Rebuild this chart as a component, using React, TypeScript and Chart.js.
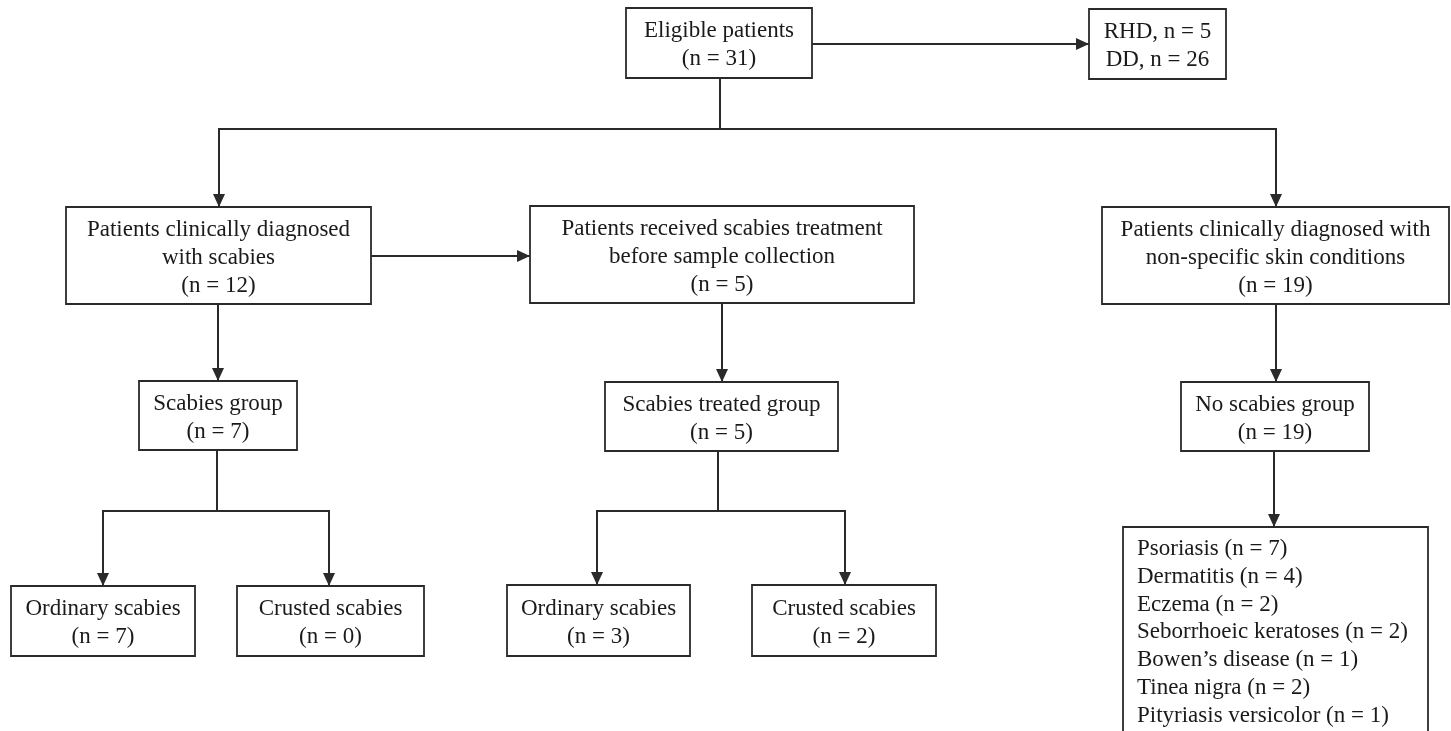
import React, { useEffect, useRef } from "react";
import { Chart, registerables } from "chart.js";

Chart.register(...registerables);

// ---- Node content (text) ----
const nodeText: string[][] = [
  ["Eligible patients", "(n = 31)"],
  ["RHD, n = 5", "DD, n = 26"],
  ["Patients clinically diagnosed", "with scabies", "(n = 12)"],
  ["Patients received scabies treatment", "before sample collection", "(n = 5)"],
  ["Patients clinically diagnosed with", "non-specific skin conditions", "(n = 19)"],
  ["Scabies group", "(n = 7)"],
  ["Scabies treated group", "(n = 5)"],
  ["No scabies group", "(n = 19)"],
  ["Ordinary scabies", "(n = 7)"],
  ["Crusted scabies", "(n = 0)"],
  ["Ordinary scabies", "(n = 3)"],
  ["Crusted scabies", "(n = 2)"],
  [
    "Psoriasis (n = 7)",
    "Dermatitis (n = 4)",
    "Eczema (n = 2)",
    "Seborrhoeic keratoses (n = 2)",
    "Bowen\u2019s disease (n = 1)",
    "Tinea nigra (n = 2)",
    "Pityriasis versicolor (n = 1)",
  ],
];
const nodeAlign: string[] = [
  "center", "center", "center", "center", "center", "center", "center",
  "center", "center", "center", "center", "center", "left",
];

// ---- Node layout in axis units ----
const nodeLeft = [626, 1089, 66, 530, 1102, 139, 605, 1181, 11, 237, 507, 752, 1123];
const nodeRight = [812, 1226, 371, 914, 1449, 297, 838, 1369, 195, 424, 690, 936, 1428];
const nodeTop = [8, 9, 207, 206, 207, 381, 382, 382, 586, 586, 585, 585, 527];
const nodeBottom = [78, 79, 304, 303, 304, 450, 451, 451, 656, 656, 656, 656, 770];

// ---- Connector paths in axis units ----
const edgeXs: number[][] = [
  [812, 1089],
  [720, 720, 219, 219],
  [720, 720, 1276, 1276],
  [371, 530],
  [218, 218],
  [722, 722],
  [1276, 1276],
  [217, 217, 103, 103],
  [217, 217, 329, 329],
  [718, 718, 597, 597],
  [718, 718, 845, 845],
  [1274, 1274],
];
const edgeYs: number[][] = [
  [44, 44],
  [78, 129, 129, 207],
  [78, 129, 129, 207],
  [256, 256],
  [304, 381],
  [303, 382],
  [304, 382],
  [450, 511, 511, 586],
  [450, 511, 511, 586],
  [451, 511, 511, 585],
  [451, 511, 511, 585],
  [451, 527],
];

const W = 1451;
const H = 731;
const INK = "#2a2a2a";
const FONT = '23px "Liberation Serif", "Times New Roman", serif';

const flowPlugin = {
  id: "flowPlugin",
  afterDatasetsDraw(chart: any) {
    const ctx = chart.ctx as CanvasRenderingContext2D;
    const xs = chart.scales.x;
    const ys = chart.scales.y;
    ctx.save();
    // arrowheads
    ctx.fillStyle = INK;
    edgeXs.forEach((ex, i) => {
      const ey = edgeYs[i];
      const n = ex.length;
      const x1 = xs.getPixelForValue(ex[n - 1]);
      const y1 = ys.getPixelForValue(ey[n - 1]);
      const x0 = xs.getPixelForValue(ex[n - 2]);
      const y0 = ys.getPixelForValue(ey[n - 2]);
      const ang = Math.atan2(y1 - y0, x1 - x0);
      const L = 13;
      const hw = 6;
      ctx.beginPath();
      ctx.moveTo(x1, y1);
      ctx.lineTo(x1 - L * Math.cos(ang) + hw * Math.sin(ang), y1 - L * Math.sin(ang) - hw * Math.cos(ang));
      ctx.lineTo(x1 - L * Math.cos(ang) - hw * Math.sin(ang), y1 - L * Math.sin(ang) + hw * Math.cos(ang));
      ctx.closePath();
      ctx.fill();
    });
    // text
    ctx.fillStyle = "#1a1a1a";
    ctx.font = FONT;
    ctx.textBaseline = "middle";
    const lh = 28;
    nodeText.forEach((lines, i) => {
      const l = xs.getPixelForValue(nodeLeft[i]);
      const r = xs.getPixelForValue(nodeRight[i]);
      const t = ys.getPixelForValue(nodeTop[i]);
      const b = ys.getPixelForValue(nodeBottom[i]);
      if (nodeAlign[i] === "left") {
        ctx.textAlign = "left";
        lines.forEach((s, k) => ctx.fillText(s, l + 14, t + 22 + k * 27.8));
      } else {
        ctx.textAlign = "center";
        const cx = (l + r) / 2;
        const cy = (t + b) / 2 + 2;
        const start = cy - ((lines.length - 1) * lh) / 2;
        lines.forEach((s, k) => ctx.fillText(s, cx, start + k * lh));
      }
    });
    ctx.restore();
  },
};

export default function App() {
  const ref = useRef<HTMLCanvasElement | null>(null);
  useEffect(() => {
    if (!ref.current) return;
    const boxSets = nodeText.map((_, i) => ({
      type: "line" as const,
      data: [
        { x: nodeLeft[i], y: nodeTop[i] },
        { x: nodeRight[i], y: nodeTop[i] },
        { x: nodeRight[i], y: nodeBottom[i] },
        { x: nodeLeft[i], y: nodeBottom[i] },
        { x: nodeLeft[i], y: nodeTop[i] },
      ],
      borderColor: INK,
      borderWidth: 1.8,
      pointRadius: 0,
      fill: false,
      tension: 0,
      borderJoinStyle: "miter" as const,
      borderCapStyle: "square" as const,
    }));
    const edgeSets = edgeXs.map((ex, i) => ({
      type: "line" as const,
      data: ex.map((x, k) => ({ x, y: edgeYs[i][k] })),
      borderColor: INK,
      borderWidth: 2,
      pointRadius: 0,
      fill: false,
      tension: 0,
      borderJoinStyle: "miter" as const,
    }));
    const chart = new Chart(ref.current, {
      type: "scatter",
      data: { datasets: [...boxSets, ...edgeSets] as any },
      options: {
        animation: false,
        responsive: false,
        devicePixelRatio: 1,
        showLine: true,
        layout: { padding: 0 },
        plugins: { legend: { display: false }, tooltip: { enabled: false } },
        events: [],
        scales: {
          x: { type: "linear", min: 0, max: W, display: false },
          y: { type: "linear", min: 0, max: H, reverse: true, display: false },
        },
      } as any,
      plugins: [flowPlugin],
    });
    return () => chart.destroy();
  }, []);
  return (
    <div style={{ position: "absolute", left: 0, top: 0, width: W, height: H, background: "#ffffff", overflow: "hidden" }}>
      <canvas ref={ref} width={W} height={H} style={{ display: "block", width: W, height: H }} />
    </div>
  );
}
